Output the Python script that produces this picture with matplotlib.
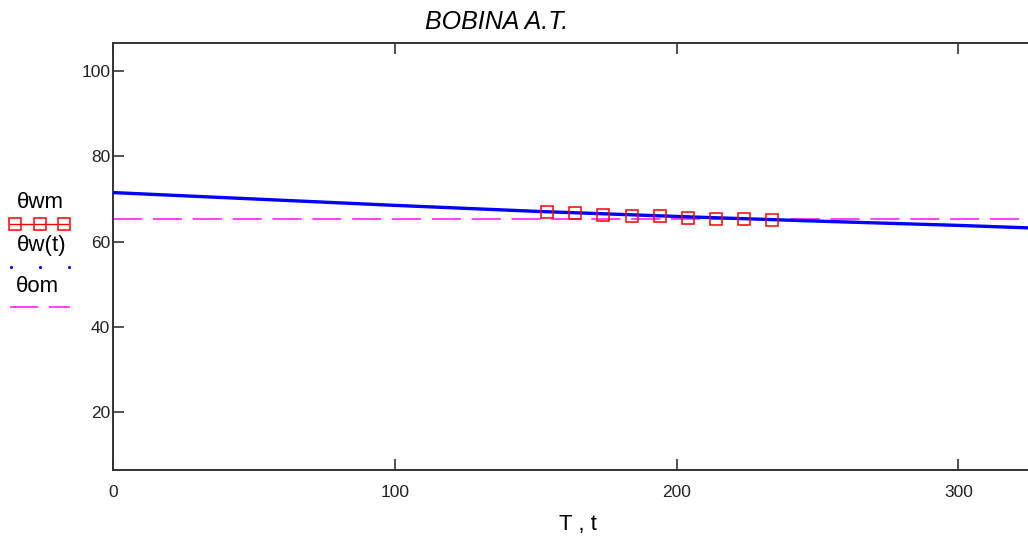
import matplotlib.pyplot as plt
from matplotlib.lines import Line2D

# data
t = [0, 50, 100, 150, 200, 250, 300, 330]
theta_w = [71.5, 70.0, 68.5, 67.1, 65.9, 64.8, 63.8, 63.1]
T = [154, 164, 174, 184, 194, 204, 214, 224, 234]
theta_wm = [67.0, 66.6, 66.2, 65.9, 66.0, 65.6, 65.4, 65.4, 65.0]
theta_om = 65.2

xticks = [0, 100, 200, 300]
yticks = [20, 40, 60, 80, 100]

plt.rcParams['font.family'] = ['Liberation Sans', 'DejaVu Sans']

fig = plt.figure(figsize=(10.28, 5.39), dpi=100)
ax = fig.add_axes([113 / 1028, 1 - 470 / 539, 930 / 1028, 427 / 539])

magenta = '#ff40ff'
ax.plot(t, theta_w, color='#0000ff', lw=2.4, zorder=3)
ax.axhline(theta_om, color=magenta, lw=1.4, dashes=(15, 5.5), zorder=2)
ax.plot(T, theta_wm, ls='none', marker='s', ms=8, mfc='none',
        mec='#ff0000', mew=1.1, zorder=4)

ax.set_xlim(0, 330)
ax.set_ylim(6.4, 106.6)
ax.set_xticks(xticks)
ax.set_yticks(yticks)
ax.tick_params(direction='in', length=8, width=1.2, labelsize=12.5,
               top=True, right=True, colors='#333333', labelcolor='#222222')
ax.tick_params(axis='x', pad=11)
ax.tick_params(axis='y', pad=2)
for s in ax.spines.values():
    s.set_linewidth(1.4)
    s.set_color('#333333')

ax.set_xlabel('T , t', fontsize=16, labelpad=10)
fig.text(0.4835, 1 - 22 / 539, 'BOBINA A.T.', style='italic', fontsize=18,
         ha='center', va='center')

# legend on the left, Mathcad style
fig.text(40 / 1028, 1 - 203 / 539, 'θwm', fontsize=16, ha='center', va='center')
fig.add_artist(Line2D([10 / 1028, 68 / 1028], [1 - 224 / 539] * 2,
                      transform=fig.transFigure, color='#ff0000', lw=1))
fig.add_artist(Line2D([15 / 1028, 40 / 1028, 64 / 1028], [1 - 224 / 539] * 3,
                      transform=fig.transFigure, color='#ff0000', ls='none',
                      marker='s', ms=8, mfc='none', mew=1.1))
fig.text(42 / 1028, 1 - 246 / 539, 'θw(t)', fontsize=16, ha='center', va='center')
fig.add_artist(Line2D([11 / 1028, 40 / 1028, 69 / 1028], [1 - 267 / 539] * 3,
                      transform=fig.transFigure, color='#0000ff', ls='none',
                      marker='.', ms=2.5))
fig.text(37 / 1028, 1 - 286 / 539, 'θom', fontsize=16, ha='center', va='center')
fig.add_artist(Line2D([10 / 1028, 70 / 1028], [1 - 307 / 539] * 2,
                      transform=fig.transFigure, color=magenta, lw=1.4,
                      dashes=(14.5, 5.5)))

fig.savefig('out.png', dpi=100)
